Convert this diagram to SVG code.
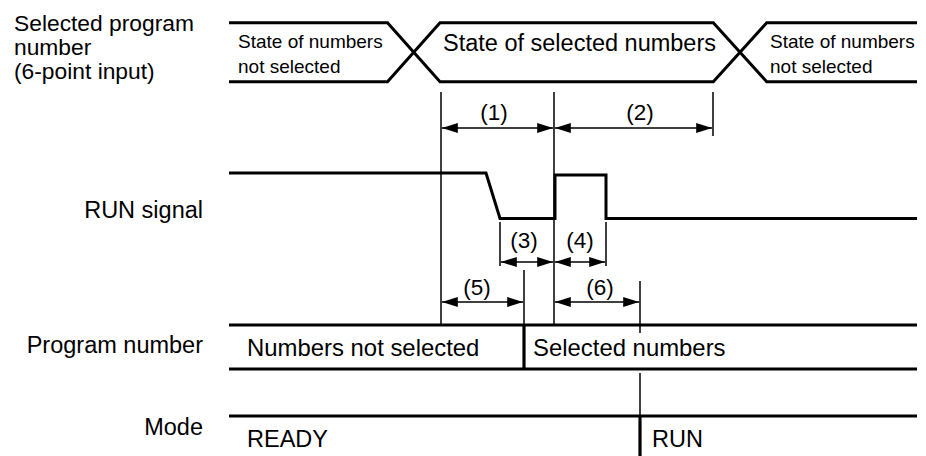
<svg xmlns="http://www.w3.org/2000/svg" width="926" height="456" viewBox="0 0 926 456">
<style>
text{font-family:"Liberation Sans",Arial,Helvetica,sans-serif;fill:#000}
.lbl{font-size:23.5px}
.side{font-size:22.8px}
.sm{font-size:19px}
.num{font-size:22.5px;text-anchor:middle}
.r{text-anchor:end}
.bus{fill:none;stroke:#000;stroke-width:3;stroke-linejoin:miter}
.thin{fill:none;stroke:#000;stroke-width:1.5}
.thick{fill:none;stroke:#000;stroke-width:3.2}
.dim{fill:none;stroke:#000;stroke-width:1.5;marker-start:url(#ah);marker-end:url(#ah)}
</style>
<defs>
<marker id="ah" markerUnits="userSpaceOnUse" viewBox="0 0 16 10" refX="16" refY="5" markerWidth="16" markerHeight="10" orient="auto-start-reverse">
<path d="M0,0 L16,5 L0,10 Z" fill="#000"/>
</marker>
</defs>
<rect width="926" height="456" fill="#fff"/>

<g id="labels">
<text class="side" x="14" y="31">Selected program</text>
<text class="side" x="14" y="55">number</text>
<text class="side" x="14" y="78.5">(6-point input)</text>
<text class="lbl r" x="203" y="218">RUN signal</text>
<text class="lbl r" x="203" y="353">Program number</text>
<text class="lbl r" x="203" y="435">Mode</text>
</g>

<g id="selected-program-bus">
<path class="bus" d="M229,22.7 H387.5 L440,81.7 H713.3 L766.7,22.7 H917"/>
<path class="bus" d="M229,81.7 H387.5 L440,22.7 H713.3 L766.7,81.7 H917"/>
<text class="sm" x="238" y="48">State of numbers</text>
<text class="sm" x="238" y="73">not selected</text>
<text class="lbl" x="443" y="50.7">State of selected numbers</text>
<text class="sm" x="770" y="48">State of numbers</text>
<text class="sm" x="770" y="73">not selected</text>
</g>

<g id="run-signal">
<polyline class="bus" points="229,173 486,173 500,218.5 555,218.5 555,175 606,175 606,218.5 917,218.5"/>
</g>

<g id="program-number-bus">
<line class="bus" x1="229" y1="325" x2="917" y2="325"/>
<line class="bus" x1="229" y1="369" x2="917" y2="369"/>
<line class="thick" x1="524" y1="324" x2="524" y2="370"/>
<text class="lbl" x="247" y="355.7" style="font-size:23.9px">Numbers not selected</text>
<text class="lbl" x="533" y="355.7" style="font-size:23.9px">Selected numbers</text>
</g>

<g id="mode-bus">
<line class="bus" x1="229" y1="416" x2="917" y2="416"/>
<line class="thick" x1="640" y1="415" x2="640" y2="456"/>
<text class="lbl" x="247" y="446.7">READY</text>
<text class="lbl" x="652" y="446.7">RUN</text>
</g>

<g id="connectors">
<line class="thin" x1="441" y1="92" x2="441" y2="324"/>
<line class="thin" x1="554" y1="92" x2="554" y2="324"/>
<line class="thin" x1="713" y1="92" x2="713" y2="136"/>
<line class="thin" x1="500" y1="222" x2="500" y2="266"/>
<line class="thin" x1="606" y1="222" x2="606" y2="266"/>
<line class="thin" x1="524" y1="270" x2="524" y2="325"/>
<line class="thin" x1="640" y1="281" x2="640" y2="333"/>
<line class="thin" x1="640" y1="373" x2="640" y2="416"/>
<line class="dim" x1="441.8" y1="128" x2="553.2" y2="128"/>
<line class="dim" x1="554.8" y1="128" x2="712.2" y2="128"/>
<line class="dim" x1="500.8" y1="262" x2="553.2" y2="262"/>
<line class="dim" x1="554.8" y1="262" x2="605.2" y2="262"/>
<line class="dim" x1="441.8" y1="302" x2="523.2" y2="302"/>
<line class="dim" x1="554.8" y1="302" x2="639.2" y2="302"/>
<text class="num" x="494" y="120">(1)</text>
<text class="num" x="640" y="120">(2)</text>
<text class="num" x="524" y="248">(3)</text>
<text class="num" x="580" y="248">(4)</text>
<text class="num" x="477" y="295">(5)</text>
<text class="num" x="600" y="295">(6)</text>
</g>
</svg>
